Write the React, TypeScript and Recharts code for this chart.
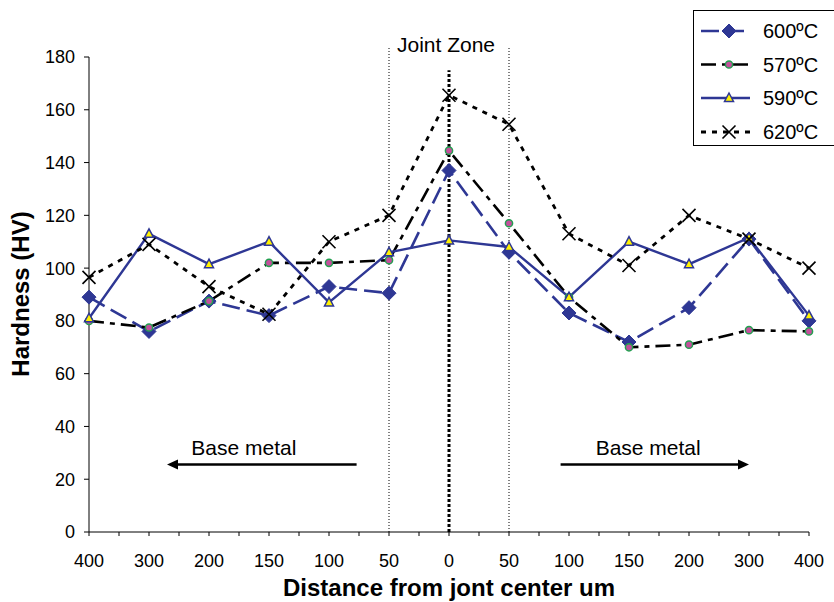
import { LineChart, Line, XAxis, YAxis, ReferenceLine } from "recharts";

// distance from joint centre (um), left base metal -> joint -> right base metal
const distanceLabels = ["400", "300", "200", "150", "100", "50", "0", "50", "100", "150", "200", "300", "400"];

// hardness (HV) per welding temperature
const hv600 = [89, 76, 87.5, 82, 93, 90.5, 137, 106, 83, 72, 85, 111, 80];
const hv570 = [80, 77.5, 87.5, 102, 102, 103, 144.5, 117, 89, 70, 71, 76.5, 76];
const hv590 = [81, 113, 101.5, 110, 87, 106, 110.5, 108, 89, 110, 101.5, 111.5, 82];
const hv620 = [96.5, 109, 93, 82.5, 110, 120, 165.5, 154.5, 113, 101, 120, 111, 100];

const yTicks = [0, 20, 40, 60, 80, 100, 120, 140, 160, 180];

// annotation arrows (index units on x, HV on y)
const leftArrow = { from: 4.46, to: 1.3, y: 25.6, textX: 2.58 };
const rightArrow = { from: 7.86, to: 11, y: 25.6, textX: 9.32 };

const NAVY = "#2E3794";
const FONT = "'Liberation Sans', Arial, Helvetica, sans-serif";

const data = distanceLabels.map((label, i) => ({
  idx: i,
  label,
  t600: hv600[i],
  t570: hv570[i],
  t590: hv590[i],
  t620: hv620[i],
}));

// major ticks at each point, minor ticks half-way between
const xTicks = distanceLabels.flatMap((_, i) => (i < distanceLabels.length - 1 ? [i, i + 0.5] : [i]));

const Diamond = ({ cx, cy }: { cx: number; cy: number }) => (
  <path d={`M${cx} ${cy - 7} L${cx + 7} ${cy} L${cx} ${cy + 7} L${cx - 7} ${cy} Z`} fill={NAVY} stroke={NAVY} strokeWidth={1} />
);
const Dot = ({ cx, cy }: { cx: number; cy: number }) => (
  <circle cx={cx} cy={cy} r={3.6} fill="#C4509C" stroke="#22A050" strokeWidth={1.5} />
);
const Tri = ({ cx, cy }: { cx: number; cy: number }) => (
  <path d={`M${cx} ${cy - 5} L${cx + 4.5} ${cy + 3.5} L${cx - 4.5} ${cy + 3.5} Z`} fill="#FFF200" stroke={NAVY} strokeWidth={1.5} />
);
const Cross = ({ cx, cy }: { cx: number; cy: number }) => (
  <path d={`M${cx - 6.5} ${cy - 6.5} L${cx + 6.5} ${cy + 6.5} M${cx + 6.5} ${cy - 6.5} L${cx - 6.5} ${cy + 6.5}`} stroke="#000" strokeWidth={1.6} fill="none" />
);

const series = [
  { key: "t600", name: "600ºC", color: NAVY, dash: "18 7", width: 2.6, Marker: Diamond },
  { key: "t570", name: "570ºC", color: "#000", dash: "15 6 5 6", width: 2.6, Marker: Dot },
  { key: "t590", name: "590ºC", color: NAVY, dash: undefined, width: 2.4, Marker: Tri },
  { key: "t620", name: "620ºC", color: "#000", dash: "5 6", width: 2.8, Marker: Cross },
];

const XTick = (props: any) => {
  const { x, y, payload } = props;
  if (!Number.isInteger(payload.value)) return null;
  return (
    <text x={x} y={y + 29} textAnchor="middle" fontSize={18} fill="#000">
      {distanceLabels[payload.value]}
    </text>
  );
};

const makeArrow = (a: { from: number; to: number; y: number; textX: number }) => (p: any) => {
  const { x1, y1, x2 } = p;
  const pxPerUnit = (x2 - x1) / (a.to - a.from);
  const tx = x1 + (a.textX - a.from) * pxPerUnit;
  const dir = x2 > x1 ? 1 : -1;
  return (
    <g>
      <line x1={x1} y1={y1} x2={x2 - dir * 8} y2={y1} stroke="#000" strokeWidth={2.4} />
      <path d={`M${x2} ${y1} L${x2 - dir * 11} ${y1 - 5} L${x2 - dir * 11} ${y1 + 5} Z`} fill="#000" />
      <text x={tx} y={y1 - 9} textAnchor="middle" fontSize={21} fill="#000">
        Base metal
      </text>
    </g>
  );
};

const centreLine = (p: any) => {
  const { x1, y1, x2, y2 } = p;
  const top = Math.min(y1, y2);
  return (
    <g>
      <line x1={x1} y1={y1} x2={x2} y2={y2} stroke="#000" strokeWidth={3} strokeDasharray="3 2" />
      <text x={x1 - 3} y={top - 18} textAnchor="middle" fontSize={21} fill="#000">
        Joint Zone
      </text>
    </g>
  );
};

const Legend = () => {
  const rows = [21, 54.5, 88, 122];
  return (
    <svg width={141} height={137} style={{ position: "absolute", left: 693, top: 10 }}>
      <rect x={0.5} y={0.5} width={160} height={135} fill="#fff" stroke="#000" strokeWidth={1} />
      {series.map((s, i) => (
        <g key={s.key}>
          <line x1={8} x2={57} y1={rows[i]} y2={rows[i]} stroke={s.color} strokeWidth={s.width} strokeDasharray={s.dash} />
          <s.Marker cx={36} cy={rows[i]} />
          <text x={70} y={rows[i] + 7} fontSize={20} fill="#000">
            {s.name}
          </text>
        </g>
      ))}
    </svg>
  );
};

export default function App() {
  return (
    <div style={{ position: "absolute", left: 0, top: 0, width: 834, height: 602, background: "#fff", fontFamily: FONT, overflow: "hidden" }}>
      <LineChart width={834} height={602} data={data} margin={{ top: 57, right: 25, left: 0, bottom: 0 }}>
        <XAxis
          dataKey="idx"
          type="number"
          domain={[0, 12]}
          ticks={xTicks}
          interval={0}
          tickSize={4}
          tick={<XTick />}
          height={70}
          stroke="#000"
          label={{
            content: () => (
              <text x={449} y={596} textAnchor="middle" fontSize={24} fontWeight="bold" fill="#000">
                Distance from jont center um
              </text>
            ),
          }}
        />
        <YAxis
          domain={[0, 180]}
          ticks={yTicks}
          interval={0}
          width={89}
          tickSize={5}
          tickMargin={9}
          tick={{ fontSize: 18, fill: "#000" }}
          stroke="#000"
          label={{
            content: () => (
              <text x={28.5} y={294} transform="rotate(-90, 28.5, 294)" textAnchor="middle" fontSize={24} fontWeight="bold" fill="#000">
                Hardness (HV)
              </text>
            ),
          }}
        />
        <ReferenceLine segment={[{ x: 5, y: 0 }, { x: 5, y: 183.5 }]} ifOverflow="visible" stroke="#000" strokeWidth={1} strokeDasharray="1 2" />
        <ReferenceLine segment={[{ x: 7, y: 0 }, { x: 7, y: 183.5 }]} ifOverflow="visible" stroke="#000" strokeWidth={1} strokeDasharray="1 2" />
        <ReferenceLine segment={[{ x: 6, y: 0 }, { x: 6, y: 175 }]} ifOverflow="visible" shape={centreLine} />
        <ReferenceLine segment={[{ x: leftArrow.from, y: leftArrow.y }, { x: leftArrow.to, y: leftArrow.y }]} ifOverflow="visible" shape={makeArrow(leftArrow)} />
        <ReferenceLine segment={[{ x: rightArrow.from, y: rightArrow.y }, { x: rightArrow.to, y: rightArrow.y }]} ifOverflow="visible" shape={makeArrow(rightArrow)} />
        {series.map((s) => (
          <Line
            key={s.key}
            dataKey={s.key}
            name={s.name}
            stroke={s.color}
            strokeWidth={s.width}
            strokeDasharray={s.dash}
            isAnimationActive={false}
            dot={(p: any) => <s.Marker key={`${s.key}-${p.index}`} cx={p.cx} cy={p.cy} />}
            activeDot={false}
          />
        ))}
      </LineChart>
      <Legend />
    </div>
  );
}
